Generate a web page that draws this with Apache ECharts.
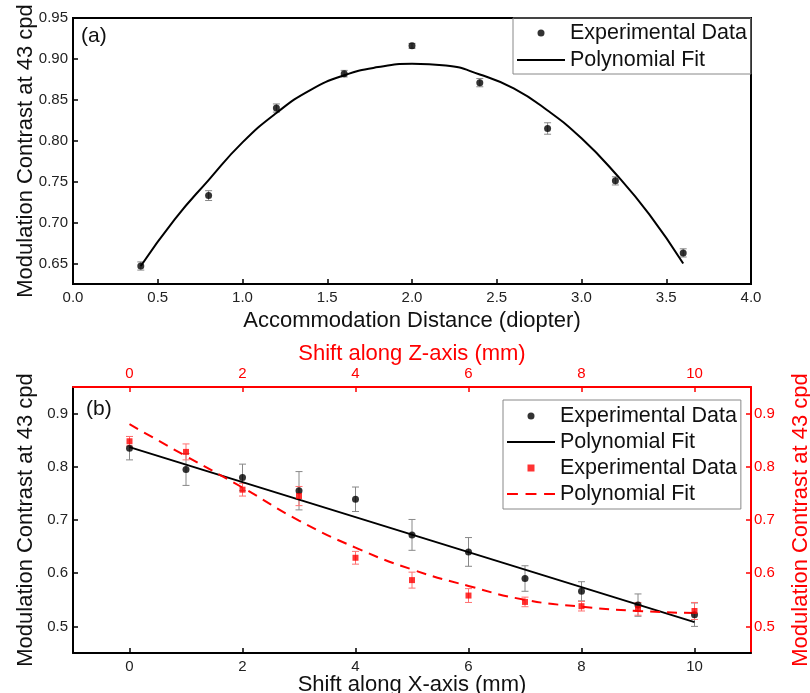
<!DOCTYPE html>
<html>
<head>
<meta charset="utf-8">
<title>Modulation Contrast at 43 cpd</title>
<script src="https://cdn.jsdelivr.net/npm/echarts@6/dist/echarts.min.js"></script>
<style>
    html, body { margin: 0; padding: 0; background: #fff; }
    #chart { width: 810px; height: 693px; }
</style>
</head>
<body>
<div id="chart"></div>
<script>
    // panel (a): accommodation distance
    var distA = [0.4, 0.8, 1.2, 1.6, 2.0, 2.4, 2.8, 3.2, 3.6];
    var contrastA = [0.647, 0.733, 0.840, 0.882, 0.916, 0.871, 0.815, 0.751, 0.663];
    var errA = [0.005, 0.006, 0.005, 0.004, 0.003, 0.005, 0.007, 0.005, 0.005];
    var fitDistA = [0.4, 0.6, 0.8, 1.0, 1.2, 1.4, 1.6, 1.8, 2.0, 2.2, 2.4, 2.6, 2.8, 3.0, 3.2, 3.4, 3.6];
    var fitA = [0.647, 0.704, 0.752, 0.798, 0.834, 0.862, 0.880, 0.890, 0.894, 0.892, 0.881, 0.864, 0.837, 0.803, 0.760, 0.710, 0.650];
    var yTicksA = [0.65, 0.70, 0.75, 0.80, 0.85, 0.90, 0.95];

    // panel (b): shift along X (black) and Z (red)
    var shiftB = [0, 1, 2, 3, 4, 5, 6, 7, 8, 9, 10];
    var contrastX = [0.835, 0.795, 0.780, 0.755, 0.739, 0.672, 0.640, 0.590, 0.566, 0.540, 0.522];
    var errX = [0.022, 0.030, 0.025, 0.036, 0.023, 0.029, 0.027, 0.024, 0.018, 0.021, 0.022];
    var fitXShift = [0, 10];
    var fitX = [0.837, 0.508];
    var contrastZ = [0.848, 0.828, 0.757, 0.745, 0.629, 0.587, 0.558, 0.546, 0.538, 0.533, 0.529];
    var errZ = [0.009, 0.015, 0.012, 0.018, 0.012, 0.015, 0.013, 0.009, 0.009, 0.012, 0.016];
    var fitZ = [0.880, 0.820, 0.761, 0.699, 0.648, 0.607, 0.576, 0.550, 0.537, 0.529, 0.525];
    var xTicksB = [0, 2, 4, 6, 8, 10];
    var yTicksB = [0.5, 0.6, 0.7, 0.8, 0.9];

    var RED = '#ff0000';
    var FONT = 'Liberation Sans';
    var ZW = '\u200B';   // invisible suffix so repeated legend names stay separate

    function zip(xs, ys) {
        return xs.map(function (x, i) { return [x, ys[i]]; });
    }
    function bars(xs, ys, es) {
        return xs.map(function (x, i) { return [x, ys[i] - es[i], ys[i] + es[i]]; });
    }
    // error bars drawn through the axis scales
    function errorBar(color) {
        return function (params, api) {
            var top = api.coord([api.value(0), api.value(2)]);
            var bot = api.coord([api.value(0), api.value(1)]);
            var w = 3.5;
            var st = { stroke: color, lineWidth: 1 };
            return {
                type: 'group',
                children: [
                    { type: 'line', shape: { x1: top[0], y1: top[1], x2: bot[0], y2: bot[1] }, style: st },
                    { type: 'line', shape: { x1: top[0] - w, y1: top[1], x2: top[0] + w, y2: top[1] }, style: st },
                    { type: 'line', shape: { x1: bot[0] - w, y1: bot[1], x2: bot[0] + w, y2: bot[1] }, style: st }
                ]
            };
        };
    }

    function valueAxis(o) {
        var color = o.color || '#000';
        return {
            type: 'value',
            gridIndex: o.grid,
            position: o.position,
            min: o.min,
            max: o.max,
            interval: o.interval,
            name: o.name,
            nameLocation: 'middle',
            nameGap: o.nameGap,
            nameRotate: o.nameRotate,
            nameMoveOverlap: false,
            nameTextStyle: { fontSize: 22, color: color === '#000' ? '#111' : color, fontFamily: FONT },
            axisLine: { show: true, onZero: false, lineStyle: { color: color, width: 2 } },
            axisTick: { show: true, inside: true, length: 5, lineStyle: { color: color, width: 1.5 },
                customValues: o.ticks },
            axisLabel: { show: true, color: color === '#000' ? '#222' : color, fontSize: 15,
                fontFamily: FONT, margin: o.margin || 6, customValues: o.ticks,
                formatter: o.fmt },
            splitLine: { show: false }
        };
    }

    var lineIcon = 'path://M0,0h48v2h-48z';
    var dashIcon = 'path://M0,0h10v2h-10zM17,0h10v2h-10zM34,0h10v2h-10z';
    var squareIcon = 'path://M0,0h1v1h-1z';

    var myChart = echarts.init(document.getElementById('chart'));

    var option = {
        animation: false,
        backgroundColor: '#fff',
        textStyle: { fontFamily: FONT },
        title: [
            { text: '(a)', left: 76, top: 21, textStyle: { fontSize: 21, fontWeight: 'normal', color: '#111' } },
            { text: '(b)', left: 81, top: 394, textStyle: { fontSize: 21, fontWeight: 'normal', color: '#111' } }
        ],
        grid: [
            { left: 73, top: 18, width: 678, height: 266, outerBoundsMode: 'none',
                show: true, borderColor: '#000', borderWidth: 2 },
            { left: 73, top: 387, width: 678, height: 266, outerBoundsMode: 'none' }
        ],
        legend: [
            {
                left: 513, top: 18, orient: 'vertical', selectedMode: false,
                padding: [3, 4, 2, 4], itemWidth: 48, itemHeight: 7, itemGap: 3,
                borderColor: '#888', borderWidth: 1, symbolKeepAspect: true,
                textStyle: { fontSize: 21.5, color: '#111', lineHeight: 24 },
                data: [
                    { name: 'Experimental Data', icon: 'circle' },
                    { name: 'Polynomial Fit', icon: lineIcon }
                ]
            },
            {
                left: 503, top: 400, orient: 'vertical', selectedMode: false,
                padding: [4, 4, 3, 4], itemWidth: 48, itemHeight: 7, itemGap: 2,
                borderColor: '#888', borderWidth: 1, symbolKeepAspect: true,
                textStyle: { fontSize: 21.5, color: '#111', lineHeight: 24 },
                data: [
                    { name: 'Experimental Data' + ZW, icon: 'circle' },
                    { name: 'Polynomial Fit' + ZW, icon: lineIcon },
                    { name: 'Experimental Data' + ZW + ZW, icon: squareIcon },
                    { name: 'Polynomial Fit' + ZW + ZW, icon: dashIcon }
                ]
            }
        ],
        xAxis: [
            valueAxis({ grid: 0, position: 'bottom', min: 0, max: 4, interval: 0.5,
                name: 'Accommodation Distance (diopter)', nameGap: 26,
                fmt: function (v) { return v.toFixed(1); } }),
            valueAxis({ grid: 1, position: 'bottom', min: -1, max: 11, ticks: xTicksB,
                name: 'Shift along X-axis (mm)', nameGap: 21 }),
            valueAxis({ grid: 1, position: 'top', min: -1, max: 11, ticks: xTicksB, color: RED,
                name: 'Shift along Z-axis (mm)', nameGap: 22 })
        ],
        yAxis: [
            valueAxis({ grid: 0, position: 'left', min: 0.625, max: 0.95, ticks: yTicksA,
                name: 'Modulation Contrast at 43 cpd', nameGap: 36, nameRotate: 90, margin: 5,
                fmt: function (v) { return v.toFixed(2); } }),
            valueAxis({ grid: 1, position: 'left', min: 0.45, max: 0.95, ticks: yTicksB,
                name: 'Modulation Contrast at 43 cpd', nameGap: 36, nameRotate: 90, margin: 5,
                fmt: function (v) { return v.toFixed(1); } }),
            valueAxis({ grid: 1, position: 'right', min: 0.45, max: 0.95, ticks: yTicksB, color: RED,
                name: 'Modulation Contrast at 43 cpd', nameGap: 39, nameRotate: 90, margin: 3,
                fmt: function (v) { return v.toFixed(1); } })
        ],
        series: [
            // (a)
            {
                type: 'custom', xAxisIndex: 0, yAxisIndex: 0, z: 2,
                renderItem: errorBar('#888'), data: bars(distA, contrastA, errA)
            },
            {
                name: 'Polynomial Fit', type: 'line', xAxisIndex: 0, yAxisIndex: 0, z: 3,
                smooth: true, symbol: 'none', itemStyle: { color: '#000' },
                lineStyle: { color: '#000', width: 2 },
                data: zip(fitDistA, fitA)
            },
            {
                name: 'Experimental Data', type: 'scatter', xAxisIndex: 0, yAxisIndex: 0, z: 4,
                symbol: 'circle', symbolSize: 7, itemStyle: { color: '#000' },
                data: zip(distA, contrastA)
            },
            // (b) black, X shift
            {
                type: 'custom', xAxisIndex: 1, yAxisIndex: 1, z: 2,
                renderItem: errorBar('#888'), data: bars(shiftB, contrastX, errX)
            },
            {
                name: 'Polynomial Fit' + ZW, type: 'line', xAxisIndex: 1, yAxisIndex: 1, z: 3,
                symbol: 'none', itemStyle: { color: '#000' },
                lineStyle: { color: '#000', width: 2 },
                data: zip(fitXShift, fitX)
            },
            {
                name: 'Experimental Data' + ZW, type: 'scatter', xAxisIndex: 1, yAxisIndex: 1, z: 4,
                symbol: 'circle', symbolSize: 7, itemStyle: { color: '#000' },
                data: zip(shiftB, contrastX)
            },
            // (b) red, Z shift
            {
                type: 'custom', xAxisIndex: 2, yAxisIndex: 2, z: 2,
                renderItem: errorBar('#ff7070'), data: bars(shiftB, contrastZ, errZ)
            },
            {
                name: 'Polynomial Fit' + ZW + ZW, type: 'line', xAxisIndex: 2, yAxisIndex: 2, z: 3,
                smooth: true, symbol: 'none', itemStyle: { color: RED },
                lineStyle: { color: RED, width: 2, type: [10, 7] },
                data: zip(shiftB, fitZ)
            },
            {
                name: 'Experimental Data' + ZW + ZW, type: 'scatter', xAxisIndex: 2, yAxisIndex: 2, z: 4,
                symbol: 'rect', symbolSize: 6, itemStyle: { color: RED },
                data: zip(shiftB, contrastZ)
            }
        ]
    };
    myChart.setOption(option);
</script>
</body>
</html>
